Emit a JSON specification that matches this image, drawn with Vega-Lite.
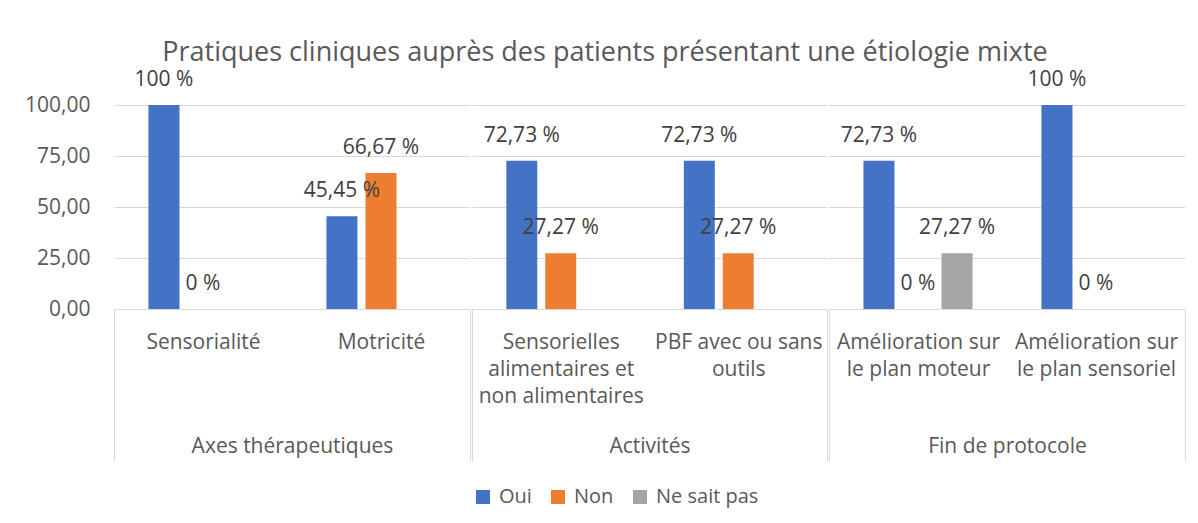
{
  "$schema": "https://vega.github.io/schema/vega-lite/v6.json",
  "background": "white",
  "padding": {"left": 24, "top": 39, "right": 10, "bottom": 10},
  "title": {
    "text": "Pratiques cliniques auprès des patients présentant une étiologie mixte",
    "font": "Open Sans",
    "fontSize": 27,
    "fontWeight": "normal",
    "color": "#595959",
    "anchor": "middle",
    "frame": "bounds",
    "offset": 2
  },
  "datasets": {
    "d": [
      {"groupe": "Axes thérapeutiques", "item": "Sensorialité", "reponse": "Oui", "valeur": 100, "etiquette": "100 %"},
      {"groupe": "Axes thérapeutiques", "item": "Sensorialité", "reponse": "Non", "valeur": 0, "etiquette": "0 %"},
      {"groupe": "Axes thérapeutiques", "item": "Motricité", "reponse": "Oui", "valeur": 45.45, "etiquette": "45,45 %"},
      {"groupe": "Axes thérapeutiques", "item": "Motricité", "reponse": "Non", "valeur": 66.67, "etiquette": "66,67 %"},
      {"groupe": "Activités", "item": "Sensorielles alimentaires et non alimentaires", "reponse": "Oui", "valeur": 72.73, "etiquette": "72,73 %"},
      {"groupe": "Activités", "item": "Sensorielles alimentaires et non alimentaires", "reponse": "Non", "valeur": 27.27, "etiquette": "27,27 %"},
      {"groupe": "Activités", "item": "PBF avec ou sans outils", "reponse": "Oui", "valeur": 72.73, "etiquette": "72,73 %"},
      {"groupe": "Activités", "item": "PBF avec ou sans outils", "reponse": "Non", "valeur": 27.27, "etiquette": "27,27 %"},
      {"groupe": "Fin de protocole", "item": "Amélioration sur le plan moteur", "reponse": "Oui", "valeur": 72.73, "etiquette": "72,73 %"},
      {"groupe": "Fin de protocole", "item": "Amélioration sur le plan moteur", "reponse": "Non", "valeur": 0, "etiquette": "0 %"},
      {"groupe": "Fin de protocole", "item": "Amélioration sur le plan moteur", "reponse": "Ne sait pas", "valeur": 27.27, "etiquette": "27,27 %"},
      {"groupe": "Fin de protocole", "item": "Amélioration sur le plan sensoriel", "reponse": "Oui", "valeur": 100, "etiquette": "100 %"},
      {"groupe": "Fin de protocole", "item": "Amélioration sur le plan sensoriel", "reponse": "Non", "valeur": 0, "etiquette": "0 %"}
    ]
  },
  "spacing": 0,
  "resolve": {"scale": {"x": "independent", "xOffset": "independent"}},
  "hconcat": [
    {
      "width": 356,
      "height": 204,
      "data": {"name": "d"},
      "transform": [{"filter": "datum.groupe === 'Axes thérapeutiques'"}],
      "encoding": {
        "x": {
          "field": "item", "type": "nominal",
          "sort": ["Sensorialité", "Motricité"],
          "scale": {"paddingInner": 0, "paddingOuter": 0},
          "axis": {
            "title": "Axes thérapeutiques",
            "labelExpr": "datum.value ? datum.label : ''"
          }
        },
        "xOffset": {
          "field": "reponse", "type": "nominal",
          "scale": {"domain": ["Oui", "Non", "Ne sait pas"], "paddingInner": 0.205, "paddingOuter": 0.882}
        },
        "y": {
          "field": "valeur", "type": "quantitative",
          "scale": {"domain": [0, 100]},
          "axis": {
            "title": null,
            "values": [0, 25, 50, 75, 100],
            "labelExpr": "replace(format(datum.value, '.2f'), '.', ',')",
            "domain": false,
            "ticks": false,
            "labelPadding": 24
          }
        }
      },
      "layer": [
        {
          "mark": {"type": "bar"},
          "encoding": {"color": {"field": "reponse", "type": "nominal", "scale": {"domain": ["Oui", "Non", "Ne sait pas"], "range": ["#4472C4", "#ED7D31", "#A5A5A5"]}}}
        },
        {
          "mark": {"type": "text", "dy": -25, "baseline": "middle"},
          "encoding": {"text": {"field": "etiquette"}}
        }
      ]
    },
    {
      "width": 355,
      "height": 204,
      "data": {"name": "d"},
      "transform": [{"filter": "datum.groupe === 'Activités'"}],
      "encoding": {
        "x": {
          "field": "item", "type": "nominal",
          "sort": ["Sensorielles alimentaires et non alimentaires", "PBF avec ou sans outils"],
          "scale": {"paddingInner": 0, "paddingOuter": 0},
          "axis": {
            "title": "Activités",
            "labelExpr": "datum.value === 'PBF avec ou sans outils' ? ['PBF avec ou sans', 'outils'] : datum.value === 'Sensorielles alimentaires et non alimentaires' ? ['Sensorielles', 'alimentaires et', 'non alimentaires'] : ''"
          }
        },
        "xOffset": {
          "field": "reponse", "type": "nominal",
          "scale": {"domain": ["Oui", "Non", "Ne sait pas"], "paddingInner": 0.205, "paddingOuter": 0.882}
        },
        "y": {
          "field": "valeur", "type": "quantitative",
          "scale": {"domain": [0, 100]},
          "axis": {"title": null, "values": [0, 25, 50, 75, 100], "labels": false, "domain": false, "ticks": false}
        }
      },
      "layer": [
        {
          "mark": {"type": "bar"},
          "encoding": {"color": {"field": "reponse", "type": "nominal", "scale": {"domain": ["Oui", "Non", "Ne sait pas"], "range": ["#4472C4", "#ED7D31", "#A5A5A5"]}}}
        },
        {
          "mark": {"type": "text", "dy": -25, "baseline": "middle"},
          "encoding": {"text": {"field": "etiquette"}}
        }
      ]
    },
    {
      "width": 356,
      "height": 204,
      "data": {"name": "d"},
      "transform": [{"filter": "datum.groupe === 'Fin de protocole'"}],
      "encoding": {
        "x": {
          "field": "item", "type": "nominal",
          "sort": ["Amélioration sur le plan moteur", "Amélioration sur le plan sensoriel"],
          "scale": {"paddingInner": 0, "paddingOuter": 0},
          "axis": {
            "title": "Fin de protocole",
            "labelExpr": "datum.value === 'Amélioration sur le plan moteur' ? ['Amélioration sur', 'le plan moteur'] : datum.value === 'Amélioration sur le plan sensoriel' ? ['Amélioration  sur', 'le plan sensoriel'] : ''"
          }
        },
        "xOffset": {
          "field": "reponse", "type": "nominal",
          "scale": {"domain": ["Oui", "Non", "Ne sait pas"], "paddingInner": 0.205, "paddingOuter": 0.882}
        },
        "y": {
          "field": "valeur", "type": "quantitative",
          "scale": {"domain": [0, 100]},
          "axis": {"title": null, "values": [0, 25, 50, 75, 100], "labels": false, "domain": false, "ticks": false}
        }
      },
      "layer": [
        {
          "mark": {"type": "bar"},
          "encoding": {"color": {"field": "reponse", "type": "nominal", "scale": {"domain": ["Oui", "Non", "Ne sait pas"], "range": ["#4472C4", "#ED7D31", "#A5A5A5"]}}}
        },
        {
          "mark": {"type": "text", "dy": -25, "baseline": "middle"},
          "encoding": {"text": {"field": "etiquette"}}
        }
      ]
    }
  ],
  "config": {
    "font": "Open Sans",
    "view": {"stroke": null},
    "axis": {
      "labelFont": "Open Sans",
      "titleFont": "Open Sans",
      "labelFontSize": 21,
      "titleFontSize": 21,
      "titleFontWeight": "normal",
      "labelColor": "#595959",
      "titleColor": "#595959",
      "gridColor": "#d9d9d9",
      "domainColor": "#d9d9d9"
    },
    "axisX": {
      "grid": false,
      "labelAngle": 0,
      "tickBand": "extent",
      "tickSize": 152,
      "tickColor": "#d9d9d9",
      "tickOpacity": {"condition": {"test": "indexof(['Sensorialité', 'Sensorielles alimentaires et non alimentaires', 'Amélioration sur le plan moteur'], datum.value) >= 0", "value": 0}, "value": 1},
      "labelPadding": -130,
      "labelBaseline": "top",
      "labelLineHeight": 27,
      "labelLimit": 0,
      "titleY": 137,
      "titleBaseline": "middle"
    },
    "axisY": {"grid": true},
    "text": {"font": "Open Sans", "fontSize": 21, "color": "#404040"},
    "legend": {
      "orient": "none",
      "legendX": 359,
      "legendY": 382,
      "direction": "horizontal",
      "title": null,
      "symbolType": "square",
      "symbolSize": 196,
      "symbolStrokeWidth": 0,
      "labelFont": "Open Sans",
      "labelFontSize": 20,
      "labelColor": "#595959",
      "labelOffset": 6,
      "columnPadding": 16
    }
  }
}
